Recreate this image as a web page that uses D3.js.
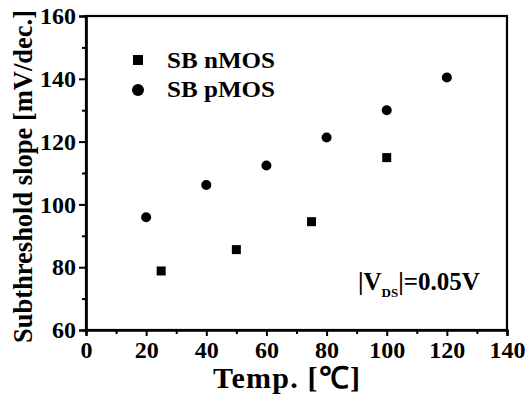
<!DOCTYPE html>
<html><head><meta charset="utf-8">
<script src="https://cdn.jsdelivr.net/npm/d3@7"></script>
<style>body{margin:0;background:#fff}svg{display:block}</style>
</head><body>
<script>
const nTemp = [25, 50, 75, 100];
const nSlope = [78.8, 85.6, 94.5, 114.9];
const pTemp = [20, 40, 60, 80, 100, 120];
const pSlope = [95.9, 106.2, 112.4, 121.3, 130.0, 140.4];
const xTicks = [0, 20, 40, 60, 80, 100, 120, 140];
const yTicks = [60, 80, 100, 120, 140, 160];
const legendLabels = ["SB nMOS", "SB pMOS"];

const W = 528, H = 396;
const svg = d3.select("body").append("svg").attr("width", W).attr("height", H);
const x = d3.scaleLinear().domain([0, 140]).range([86, 507]);
const y = d3.scaleLinear().domain([60, 160]).range([330, 16]);
const font = "'Liberation Serif', 'Times New Roman', serif";

// frame
svg.append("rect").attr("x", x(0)).attr("y", y(160)).attr("width", x(140) - x(0)).attr("height", y(60) - y(160))
  .attr("fill", "none").attr("stroke", "#000").attr("stroke-width", 2.2);

const xAxis = d3.axisBottom(x).tickValues(xTicks).tickSize(6).tickPadding(5).tickFormat(d3.format("d"));
const gx = svg.append("g").attr("transform", `translate(0,${y(60)})`).call(xAxis);
const yAxis = d3.axisLeft(y).tickValues(yTicks).tickSize(7).tickPadding(3).tickFormat(d3.format("d"));
const gy = svg.append("g").attr("transform", `translate(${x(0)},0)`).call(yAxis);
// minor ticks
const gxm = svg.append("g").attr("transform", `translate(0,${y(60)})`)
  .call(d3.axisBottom(x).tickValues(d3.range(10, 140, 20)).tickSize(4).tickFormat(""));
const gym = svg.append("g").attr("transform", `translate(${x(0)},0)`)
  .call(d3.axisLeft(y).tickValues(d3.range(70, 160, 20)).tickSize(4).tickFormat(""));
[gx, gy, gxm, gym].forEach(g => {
  g.select(".domain").attr("stroke-width", 2.2);
  g.selectAll(".tick line").attr("stroke-width", 2);
});
[gx, gy].forEach(g => g.selectAll("text").attr("font-family", font).attr("font-weight", "bold")
  .attr("font-size", 24).attr("fill", "#000"));

// axis titles
svg.append("text").attr("x", 213).attr("y", 388)
  .attr("font-family", font).attr("font-weight", "bold").attr("font-size", 30)
  .attr("textLength", 147).attr("lengthAdjust", "spacing")
  .text("Temp. [℃]");
svg.append("text").attr("transform", `translate(32,${176.5}) rotate(-90)`).attr("text-anchor", "middle")
  .attr("font-family", font).attr("font-weight", "bold").attr("font-size", 27)
  .attr("textLength", 333).attr("lengthAdjust", "spacingAndGlyphs")
  .text("Subthreshold slope [mV/dec.]");

// data
svg.append("g").selectAll("rect").data(nTemp.map((t, i) => [t, nSlope[i]])).join("rect")
  .attr("x", d => x(d[0]) - 4.5).attr("y", d => y(d[1]) - 4.5).attr("width", 9).attr("height", 9).attr("fill", "#000");
svg.append("g").selectAll("circle").data(pTemp.map((t, i) => [t, pSlope[i]])).join("circle")
  .attr("cx", d => x(d[0])).attr("cy", d => y(d[1])).attr("r", 5).attr("fill", "#000");

// legend
const lg = svg.append("g");
lg.append("rect").attr("x", 133).attr("y", 55).attr("width", 10).attr("height", 10).attr("fill", "#000");
lg.append("circle").attr("cx", 138).attr("cy", 90).attr("r", 6).attr("fill", "#000");
lg.selectAll("text").data(legendLabels).join("text")
  .attr("x", 167).attr("y", (d, i) => 68 + i * 29)
  .attr("font-family", font).attr("font-weight", "bold").attr("font-size", 23)
  .attr("textLength", 108).attr("lengthAdjust", "spacingAndGlyphs").text(d => d);

// annotation
const ann = svg.append("text").attr("x", 358).attr("y", 290)
  .attr("font-family", font).attr("font-weight", "bold").attr("font-size", 25);
ann.append("tspan").text("|V");
ann.append("tspan").attr("font-size", 13).attr("dy", 7).text("DS");
ann.append("tspan").attr("dy", -7).text("|=0.05V");
</script>
</body></html>
